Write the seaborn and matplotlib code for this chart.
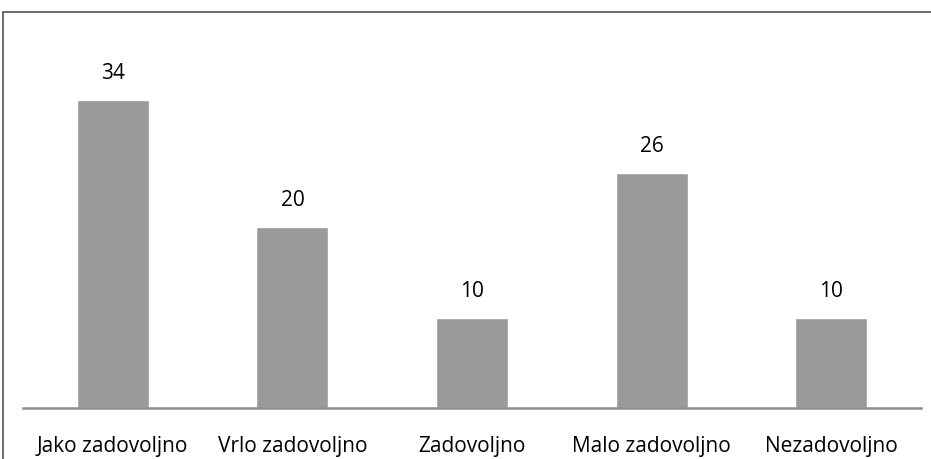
import matplotlib
matplotlib.use("Agg")
import matplotlib.pyplot as plt
import seaborn as sns
import pandas as pd
from matplotlib.patches import Rectangle

categories = ["Jako zadovoljno", "Vrlo zadovoljno", "Zadovoljno", "Malo zadovoljno", "Nezadovoljno"]
values = [34, 20, 10, 26, 10]

BAR = "#999b9b"
W, H = 931, 459

sns.set_style("white")
plt.rcParams["font.family"] = ["Open Sans", "DejaVu Sans"]
plt.rcParams["text.color"] = "black"

fig = plt.figure(figsize=(W / 100, H / 100), dpi=100)
# axes placed in pixel terms: x 23..921, y 30..408 (from top)
ax = fig.add_axes([23 / W, (H - 408) / H, (921 - 23) / W, (408 - 30) / H])

df = pd.DataFrame({"cat": categories, "val": values})
sns.barplot(data=df, x="cat", y="val", color=BAR, width=0.4, saturation=1, ax=ax)

ax.set_ylim(0, (408 - 30) / 9.05)
ax.set_xlim(-0.5, len(categories) - 0.5)
ax.set_xlabel("")
ax.set_ylabel("")
ax.set_yticks([])
for s in ["top", "right", "left"]:
    ax.spines[s].set_visible(False)
ax.spines["bottom"].set_color("#8c8c8c")
ax.spines["bottom"].set_linewidth(1.8)
ax.tick_params(axis="x", length=0, pad=20, labelsize=15, labelcolor="black")

for i, v in enumerate(values):
    ax.annotate(str(v), (i, v), xytext=(0, 19), textcoords="offset points",
                ha="center", va="center", fontsize=15, color="black")

# outer chart frame (cut off at right and bottom)
fig.patches.append(Rectangle((3 / W, -0.1), 1.1, (H - 12) / H + 0.1,
                             transform=fig.transFigure, fill=False,
                             edgecolor="#555555", linewidth=1.2))

fig.savefig("out.png", dpi=100)
